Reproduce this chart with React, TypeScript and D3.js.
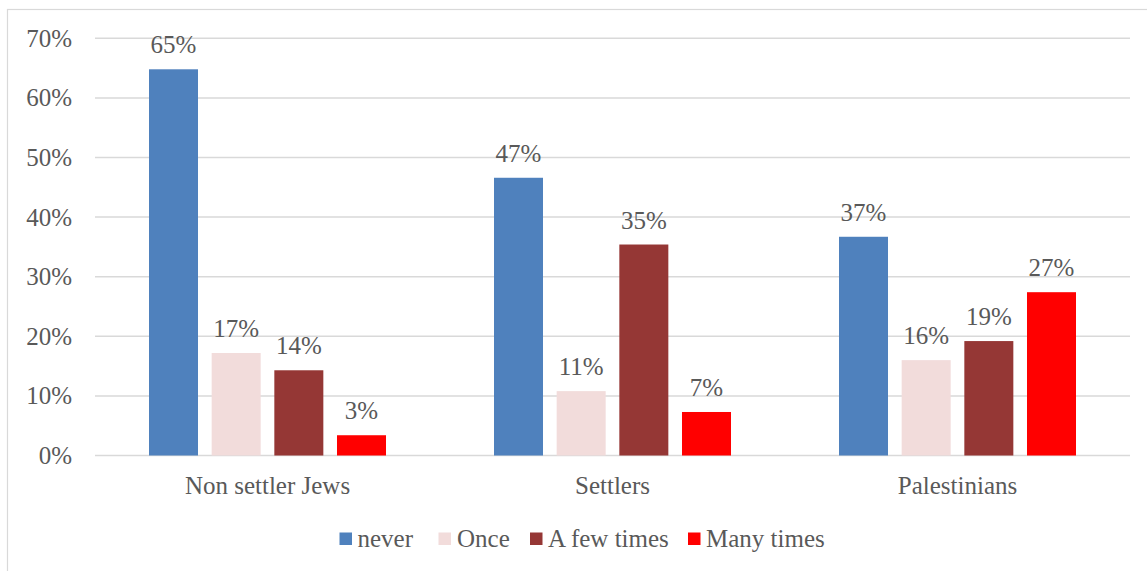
import React from "react";
import * as d3 from "d3";

const categories = ["Non settler Jews", "Settlers", "Palestinians"];
const seriesNames = ["never", "Once", "A few times", "Many times"];
const seriesColors = ["#4f81bd", "#f2dcdb", "#953735", "#ff0000"];
const never = [0.648, 0.466, 0.367];
const once = [0.172, 0.108, 0.160];
const fewTimes = [0.143, 0.354, 0.192];
const manyTimes = [0.034, 0.073, 0.274];
const seriesValues = [never, once, fewTimes, manyTimes];
const yTicks = [0, 0.1, 0.2, 0.3, 0.4, 0.5, 0.6, 0.7];

const W = 1147;
const H = 571;
const FONT = "'Liberation Serif', 'Times New Roman', serif";
const TEXT = "#595959";

export default function App() {
  const x0 = d3.scaleBand<string>().domain(categories).range([95, 1130]).padding(0);
  const groupW = 237;
  const x1 = d3
    .scaleBand<string>()
    .domain(seriesNames)
    .range([-groupW / 2, groupW / 2])
    .paddingInner(0.218)
    .paddingOuter(0);
  const y = d3.scaleLinear().domain([0, 0.7]).range([455.5, 38.3]);
  const fmt = d3.format(".0%");

  const legendItems = [
    { sq: 339.5, tx: 357.5 },
    { sq: 438.5, tx: 457 },
    { sq: 530, tx: 548 },
    { sq: 688, tx: 706 },
  ];

  return (
    <svg
      width={W}
      height={H}
      style={{ position: "absolute", left: 0, top: 0, background: "#fff" }}
      fontFamily={FONT}
    >
      <rect x={7.5} y={9.5} width={W + 10} height={H + 10} fill="#fff" stroke="#d9d9d9" strokeWidth={1.2} />
      {yTicks.map((t) => (
        <g key={t}>
          <line x1={95} x2={1130} y1={y(t)} y2={y(t)} stroke="#d9d9d9" strokeWidth={1.5} />
          <text x={72} y={y(t)} dy="0.34em" textAnchor="end" fontSize={25} fill={TEXT}>
            {fmt(t)}
          </text>
        </g>
      ))}
      {categories.map((c, ci) => {
        const cx = (x0(c) as number) + x0.bandwidth() / 2;
        return (
          <g key={c}>
            {seriesNames.map((s, si) => {
              const v = seriesValues[si][ci];
              const bx = cx + (x1(s) as number);
              const bw = x1.bandwidth();
              return (
                <g key={s}>
                  <rect x={bx} y={y(v)} width={bw} height={y(0) - y(v)} fill={seriesColors[si]} />
                  <text
                    x={bx + bw / 2}
                    y={y(v) - 16}
                    textAnchor="middle"
                    fontSize={25}
                    fill={TEXT}
                  >
                    {fmt(v)}
                  </text>
                </g>
              );
            })}
            <text x={cx} y={494} textAnchor="middle" fontSize={25} fill={TEXT}>
              {c}
            </text>
          </g>
        );
      })}
      {seriesNames.map((s, si) => (
        <g key={s}>
          <rect x={legendItems[si].sq} y={532.5} width={12.5} height={12.5} fill={seriesColors[si]} />
          <text x={legendItems[si].tx} y={547} fontSize={25} fill={TEXT}>
            {s}
          </text>
        </g>
      ))}
    </svg>
  );
}
